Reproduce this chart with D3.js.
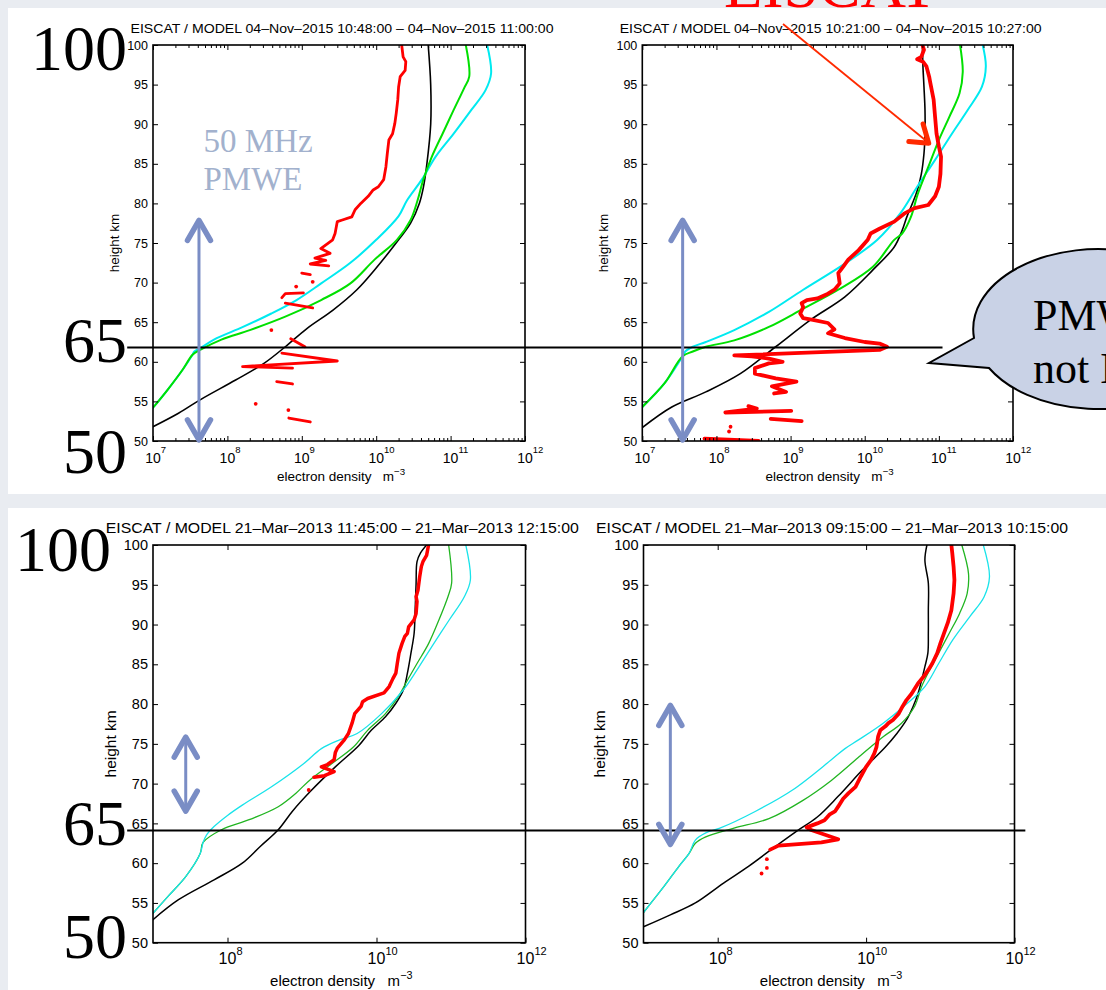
<!DOCTYPE html>
<html><head><meta charset="utf-8">
<script src="https://cdn.jsdelivr.net/npm/d3@7"></script>
<style>body{margin:0;background:#e9ecf1;}svg{display:block;}</style>
</head><body>
<svg id="c" width="1106" height="990"></svg>
<script>
// ---------------- DATA (height km, electron density m^-3) ----------------
const titles = [
  "EISCAT / MODEL 04\u2013Nov\u20132015 10:48:00 \u2013 04\u2013Nov\u20132015 11:00:00",
  "EISCAT / MODEL 04\u2013Nov\u20132015 10:21:00 \u2013 04\u2013Nov\u20132015 10:27:00",
  "EISCAT / MODEL 21\u2013Mar\u20132013 11:45:00 \u2013 21\u2013Mar\u20132013 12:15:00",
  "EISCAT / MODEL 21\u2013Mar\u20132013 09:15:00 \u2013 21\u2013Mar\u20132013 10:15:00"
];
const heightTicks = [50,55,60,65,70,75,80,85,90,95,100];
const densityTicksTop = [1e7,1e8,1e9,1e10,1e11,1e12];
const densityTicksBottom = [1e8,1e10,1e12];

// top-left
const tlBlack = [[100,5.0e10],[95,5.4e10],[90,5.4e10],[85,4.8e10],[82,4.3e10],[80,3.8e10],[77.5,2.9e10],[75.4,2.0e10],[71.6,9.5e9],[69.1,5.5e9],[66.5,2.6e9],[64.2,1.17e9],[61.9,6.0e8],[59.8,3.1e8],[57.7,1.29e8],[55.2,4.3e7],[53.5,2.2e7],[51.8,1.0e7]];
const tlGreen = [[100,1.6e11],[96,1.78e11],[94.5,1.51e11],[91.8,1.1e11],[88.8,7.8e10],[85.9,5.6e10],[83,4.3e10],[80.4,3.6e10],[77.9,2.9e10],[75.4,1.9e10],[72.9,9.5e9],[69.9,4.5e9],[67.8,1.82e9],[65.7,6.0e8],[64.0,2.0e8],[62.8,8.3e7],[61.5,4.3e7],[60.9,3.4e7],[59.0,2.5e7],[56.5,1.58e7],[54.2,1.0e7]];
const tlCyan = [[100,3.1e11],[96.4,3.5e11],[94.3,2.95e11],[91.8,1.9e11],[88.8,1.1e11],[85.9,6.3e10],[83,4.1e10],[80.4,2.6e10],[78.4,2.0e10],[75.4,1.0e10],[72.5,4.5e9],[69.9,1.82e9],[67.8,8.5e8],[66.1,3.9e8],[64.4,1.62e8],[62.8,6.6e7],[61.7,4.3e7],[61.3,3.6e7],[60.9,3.4e7],[59.0,2.5e7],[56.5,1.58e7],[54.2,1.0e7]];
const tlRed = [[100,2.2e10],[98.5,2.3e10],[97.9,2.5e10],[96.8,2.45e10],[96.0,2.1e10],[94.7,2.0e10],[93.1,1.95e10],[91.4,1.86e10],[90.1,1.78e10],[88.8,1.66e10],[88.0,1.48e10],[86.3,1.41e10],[84.6,1.35e10],[83.0,1.26e10],[82.1,1.07e10],[81.7,9.1e9],[80.9,7.8e9],[80.0,6.2e9],[79.2,5.2e9],[78.3,4.7e9],[77.9,3.5e9],[77.7,3.0e9],[76.2,2.8e9],[75.4,2.6e9],[74.3,1.8e9],[73.7,2.4e9],[73.1,1.5e9],[72.8,2.1e9],[72.35,1.3e9],[72.1,2.3e9],
  null,[71.2,1.0e9],[71.0,1.3e9],
  null,[68.1,5.4e8],[68.6,6.0e8],[68.7,1.05e9],
  null,[67.4,6.0e8],[66.8,1.4e9],
  null,[62.9,7.1e8],[61.9,1.1e9],
  null,[61.1,5.4e8],[60.1,3.0e9],[59.4,1.6e8],[59.2,7.5e8],
  null,[57.5,4.6e8],[57.2,7.5e8],
  null,[52.9,6.7e8],[52.4,1.3e9]];
const tlRedDots = [[70.1,1.4e9],[69.5,8.4e8],[64.0,3.9e8],[54.7,2.4e8],[53.9,6.6e8]];

// top-right
const trBlack = [[100,6.0e10],[97.3,6.1e10],[94.7,6.3e10],[91.8,6.5e10],[88.8,6.5e10],[86.3,6.3e10],[83.7,5.8e10],[81.6,5.1e10],[80.0,4.4e10],[78.3,3.7e10],[76.6,3.2e10],[74.5,2.5e10],[71.6,1.29e10],[68.2,5.4e9],[65.3,1.86e9],[61.9,6.3e8],[58.5,2.1e8],[56.2,7.2e7],[54.3,2.5e7],[51.7,1.0e7]];
const trGreen = [[100,1.93e11],[96.6,2.1e11],[93.9,1.9e11],[90.9,1.38e11],[88.0,1.0e11],[84.6,7.2e10],[81.2,5.2e10],[78.3,4.2e10],[76.2,3.2e10],[75.4,2.5e10],[72.0,1.29e10],[69.1,4.4e9],[66.7,1.48e9],[64.4,5.1e8],[62.7,1.74e8],[61.9,7.2e7],[61.3,4.8e7],[60.7,3.5e7],[57.3,2.0e7],[54.3,1.0e7]];
const trCyan = [[100,3.9e11],[97.3,4.3e11],[94.7,3.8e11],[91.8,2.45e11],[88.8,1.5e11],[85.5,8.9e10],[82.1,5.1e10],[78.7,3.0e10],[75.4,1.48e10],[72.4,5.4e9],[69.1,1.48e9],[66.3,5.1e8],[64.0,1.74e8],[62.5,7.2e7],[61.9,4.8e7],[61.3,3.8e7],[60.7,3.5e7],[57.3,2.0e7],[54.3,1.0e7]];
const trRed = [[100,6.0e10],[99.4,6.3e10],[98.5,5.8e10],[98.2,5.1e10],[97.9,6.1e10],[97.3,6.8e10],[96.0,7.4e10],[95.4,7.6e10],[93.1,8.5e10],[90.9,8.9e10],[88.8,9.3e10],[87.2,1.0e11],[85.9,1.07e11],[83.7,1.05e11],[82.1,1.0e11],[80.9,8.9e10],[79.8,7.2e10],[79.4,4.7e10],[78.7,3.4e10],[77.7,2.5e10],[76.8,1.58e10],[76.2,1.2e10],[75.4,1.1e10],[74.1,8.3e9],[72.9,6.0e9],[72.0,5.1e9],[71.2,4.4e9],[69.9,4.6e9],[69.1,3.9e9],[68.6,3.2e9],[68.0,2.3e9],[67.8,1.66e9],[67.4,1.41e9],[66.9,1.48e9],[66.1,1.35e9],[65.5,1.48e9],[65.3,2.0e9],[64.9,3.2e9],[64.1,3.9e9],[63.6,3.2e9],[63.0,5.4e9],[62.5,1.0e10],[62.3,1.58e10],[61.9,2.0e10],[61.5,1.58e10],[60.8,1.74e8],[60.7,3.0e8],[60.4,5.1e8],[60.0,7.8e8],[59.8,5.1e8],[59.2,3.3e8],[58.5,3.3e8],[57.9,6.3e8],[57.5,1.2e9],[56.9,5.6e8],[56.2,8.7e8],[56.0,6.0e8],
  null,[54.4,2.7e8],[54.1,3.5e8],[53.6,1.32e8],[53.8,1.02e9],
  null,[52.8,5.4e8],[52.5,1.41e9],
  null,[50.3,6.9e7],[50.0,3.7e8]];
const trRedDots = [[51.8,1.55e8],[51.2,1.48e8]];

// bottom-left
const blBlack = [[100,4.7e10],[99,3.9e10],[97.9,3.5e10],[95.2,3.4e10],[91.8,3.3e10],[88.9,3.2e10],[86.4,2.9e10],[83.9,2.6e10],[81.8,2.3e10],[80.1,1.82e10],[78.4,1.32e10],[76.7,8.5e9],[74.8,5.8e9],[72.1,2.8e9],[69.0,1.29e9],[66.5,7.4e8],[64.2,4.8e8],[62.1,2.75e8],[60.0,1.58e8],[57.9,6.6e7],[55.4,2.2e7],[52.9,1.0e7]];
const blGreen = [[100,9.3e10],[95.2,1.02e11],[93.5,9.1e10],[90.6,6.9e10],[87.6,5.0e10],[85.1,3.5e10],[83.0,2.6e10],[80.9,1.95e10],[78.8,1.32e10],[76.7,7.6e9],[74.6,4.9e9],[72.5,2.5e9],[70.5,1.29e9],[68.8,8.3e8],[67.1,4.8e8],[65.5,2.0e8],[64.2,8.3e7],[62.6,4.7e7],[61.2,4.3e7],[58.3,2.75e7],[55.8,1.58e7],[53.7,1.0e7]];
const blCyan = [[100,1.58e11],[95.6,1.82e11],[93.5,1.51e11],[90.6,9.5e10],[87.2,5.5e10],[84.3,3.5e10],[81.8,2.3e10],[78.8,1.17e10],[76.3,5.5e9],[75.5,3.2e9],[74.4,1.82e9],[72.5,1.05e9],[69.6,3.9e8],[67.3,1.58e8],[66.0,1.0e8],[64.6,6.6e7],[63.5,5.2e7],[62.6,4.7e7],[61.2,4.3e7],[58.3,2.75e7],[55.8,1.58e7],[53.7,1.0e7]];
const blRed = [[100,5.0e10],[98.7,4.7e10],[97.9,4.2e10],[97.3,4.0e10],[96.0,3.8e10],[94.3,3.6e10],[93.5,3.4e10],[92.9,3.5e10],[91.4,3.4e10],[90.6,3.2e10],[89.7,2.7e10],[88.9,2.6e10],[88.5,2.4e10],[87.6,2.2e10],[86.4,2.0e10],[85.1,1.9e10],[83.9,1.82e10],[83.2,1.66e10],[82.2,1.48e10],[81.4,1.26e10],[80.7,7.6e9],[80.3,6.5e9],[79.7,6.2e9],[78.8,5.1e9],[77.6,4.7e9],[76.3,4.2e9],[75.5,3.7e9],[74.5,3.0e9],[73.9,2.8e9],[73.0,2.7e9],[72.4,2.2e9],[72.1,1.82e9],[71.5,2.7e9],[71.0,2.0e9],[70.8,1.45e9]];
const blRedDots = [[69.2,1.23e9]];

// bottom-right
const brBlack = [[100,6.6e10],[98.1,6.2e10],[95.2,6.9e10],[91.8,6.9e10],[88.9,6.9e10],[86.4,6.8e10],[84.7,6.2e10],[83.0,5.6e10],[81.3,5.0e10],[79.7,4.3e10],[78.0,3.5e10],[76.3,2.6e10],[74.6,1.82e10],[71.7,8.9e9],[68.4,4.2e9],[65.8,2.2e9],[64.0,1.15e9],[62.1,6.0e8],[59.6,2.6e8],[57.5,1.2e8],[55.0,5.0e7],[53.5,2.3e7],[52.0,1.0e7]];
const brGreen = [[100,1.95e11],[96.4,2.4e11],[93.9,2.3e11],[91.4,1.82e11],[88.9,1.32e11],[86.4,9.5e10],[84.3,7.2e10],[82.2,5.6e10],[79.7,4.5e10],[77.6,3.0e10],[75.9,1.7e10],[74.6,1.15e10],[73.4,8.1e9],[70.4,3.4e9],[67.9,1.41e9],[65.6,4.9e8],[64.4,1.66e8],[63.3,6.9e7],[62.5,5.0e7],[61.2,4.1e7],[59.6,3.0e7],[57.1,1.9e7],[53.8,1.0e7]];
const brCyan = [[100,3.8e11],[96.0,4.6e11],[93.5,3.9e11],[91.0,2.5e11],[88.1,1.48e11],[85.1,9.5e10],[82.2,6.2e10],[80.1,3.6e10],[77.6,1.7e10],[75.5,7.9e9],[74.4,5.2e9],[73.0,3.4e9],[69.2,1.02e9],[66.5,3.2e8],[64.4,1.07e8],[63.8,6.9e7],[62.9,5.0e7],[61.2,4.1e7],[59.6,3.0e7],[57.1,1.9e7],[53.8,1.0e7]];
const brRed = [[100,1.41e11],[99.0,1.45e11],[97.3,1.51e11],[95.6,1.55e11],[93.9,1.51e11],[91.8,1.41e11],[90.2,1.26e11],[88.9,1.12e11],[87.6,1.0e11],[86.4,9.1e10],[85.1,7.8e10],[84.3,6.9e10],[83.4,5.9e10],[82.6,5.0e10],[81.3,4.1e10],[80.5,3.5e10],[79.7,3.1e10],[78.8,2.75e10],[78.0,2.3e10],[77.6,2.0e10],[77.2,1.82e10],[76.7,1.55e10],[75.9,1.45e10],[74.6,1.38e10],[73.8,1.29e10],[73.0,1.17e10],[72.1,1.0e10],[70.9,8.5e9],[69.6,7.2e9],[68.8,5.8e9],[68.1,4.9e9],[67.1,4.2e9],[66.5,3.8e9],[66.1,3.2e9],[65.4,2.75e9],[65.0,2.2e9],[64.5,1.58e9],[64.2,1.78e9],[63.0,4.2e9],[62.6,2.5e9],[62.2,6.6e8],[61.7,5.1e8]];
const brRedDots = [[60.5,4.6e8],[59.4,4.6e8],[58.7,3.9e8]];

// annotations (data space)
const pmweArrows = [[4.15e7,78.1,49.9],[3.5e7,78.1,49.9],[2.75e7,76.1,66.3],[2.3e7,80.1,62.1]];
const cutHeights = [61.8, 64.1];

// ---------------- STYLE ----------------
const SANS = "'Liberation Sans', Arial, Helvetica, sans-serif";
const SERIF = "'Liberation Serif', 'Times New Roman', serif";
const BLUE = "#7a8dc5";
const TOP = {fsTitle:13.5, titleY:33, fsY:12.5, fsX:14, fsExp:9.5, expRaise:10.5, xTickDy:22, fsXLab:13.5, xLabDy:40, fsYLab:13.5,
  majors:densityTicksTop, minor:true, order:['black','cyan','green','red'],
  colors:{black:'#000', green:'#00e000', cyan:'#00eaf0', red:'#ff0000'}, widths:{black:1.6, green:2, cyan:2, red:3}};
const BOT = {fsTitle:15, titleY:533, fsY:14.5, fsX:16, fsExp:11, expRaise:9, xTickDy:21.3, fsXLab:15, xLabDy:43.3, fsYLab:15.5,
  majors:densityTicksBottom, minor:false, order:['black','green','cyan','red'],
  colors:{black:'#000', green:'#22b522', cyan:'#19e3ea', red:'#ff0000'}, widths:{black:1.5, green:1.3, cyan:1.3, red:3.5}};

const panels = [
  {id:'tl', x0:153, x1:525, y0:45, y1:441, title:titles[0], titleLen:423, yLabX:114, st:TOP, s:{black:tlBlack,green:tlGreen,cyan:tlCyan,red:tlRed}, dots:tlRedDots, redW:2.8},
  {id:'tr', x0:642.3, x1:1013, y0:45, y1:441, title:titles[1], titleLen:422, yLabX:603.5, st:TOP, s:{black:trBlack,green:trGreen,cyan:trCyan,red:trRed}, dots:trRedDots, redW:3.8},
  {id:'bl', x0:153, x1:525.5, y0:545, y1:942.7, title:titles[2], titleLen:473, yLabX:110.7, st:BOT, s:{black:blBlack,green:blGreen,cyan:blCyan,red:blRed}, dots:blRedDots, redW:3.5},
  {id:'br', x0:643.5, x1:1014.5, y0:545, y1:942.7, title:titles[3], titleLen:472, yLabX:600, st:BOT, s:{black:brBlack,green:brGreen,cyan:brCyan,red:brRed}, dots:brRedDots, redW:3.8}
];

const svg = d3.select('#c');
svg.append('rect').attr('width',1106).attr('height',990).attr('fill','#e9ecf1');
svg.append('text').text('EISCAT').attr('x',724).attr('y',6.5).attr('font-family',SERIF).attr('font-size',63).attr('fill','#ff0000');
svg.append('rect').attr('x',8).attr('y',8).attr('width',1098).attr('height',486).attr('fill','#fff');
svg.append('rect').attr('x',8).attr('y',508).attr('width',1098).attr('height',482).attr('fill','#fff');
const defs = svg.append('defs');

panels.forEach(p => {
  const st = p.st;
  p.x = d3.scaleLog().domain([1e7,1e12]).range([p.x0,p.x1]);
  p.y = d3.scaleLinear().domain([50,100]).range([p.y1,p.y0]);
  const x = p.x, y = p.y;
  const g = svg.append('g');
  defs.append('clipPath').attr('id','clip-'+p.id).append('rect')
    .attr('x',p.x0).attr('y',p.y0).attr('width',p.x1-p.x0).attr('height',p.y1-p.y0);
  const lg = g.append('g').attr('clip-path',`url(#clip-${p.id})`);
  const smooth = d3.line().x(d => x(d[1])).y(d => y(d[0])).curve(d3.curveCatmullRom.alpha(0.5));
  const jag = d3.line().defined(d => d !== null).x(d => x(d[1])).y(d => y(d[0]));
  st.order.forEach(k => {
    lg.append('path').attr('d', k === 'red' ? jag(p.s[k]) : smooth(p.s[k])).attr('fill','none')
      .attr('stroke', st.colors[k]).attr('stroke-width', k==='red' ? p.redW : st.widths[k])
      .attr('stroke-linejoin','round').attr('stroke-linecap','round');
  });
  lg.selectAll('circle.dot').data(p.dots).join('circle').attr('class','dot')
    .attr('cx', d => x(d[1])).attr('cy', d => y(d[0])).attr('r', 1.9).attr('fill','#ff0000');

  // axes ticks (inward)
  const ax = g.append('g').attr('stroke-width',1);
  const clean = s => { s.select('.domain').remove(); s.selectAll('line').attr('stroke','#000'); };
  ax.append('g').attr('transform',`translate(0,${p.y1})`)
    .call(d3.axisBottom(x).tickValues(st.majors).tickSizeInner(-5).tickSizeOuter(0).tickFormat('')).call(clean);
  ax.append('g').attr('transform',`translate(0,${p.y0})`)
    .call(d3.axisTop(x).tickValues(st.majors).tickSizeInner(-5).tickSizeOuter(0).tickFormat('')).call(clean);
  if (st.minor) {
    const minors = [];
    for (let e = 7; e < 12; e++) for (let m = 2; m <= 9; m++) minors.push(m * Math.pow(10, e));
    ax.append('g').attr('transform',`translate(0,${p.y1})`)
      .call(d3.axisBottom(x).tickValues(minors).tickSizeInner(-3).tickSizeOuter(0).tickFormat('')).call(clean);
    ax.append('g').attr('transform',`translate(0,${p.y0})`)
      .call(d3.axisTop(x).tickValues(minors).tickSizeInner(-3).tickSizeOuter(0).tickFormat('')).call(clean);
  }
  const yl = ax.append('g').attr('transform',`translate(${p.x0},0)`)
    .call(d3.axisLeft(y).tickValues(heightTicks).tickSizeInner(-5).tickSizeOuter(0).tickPadding(5)).call(clean);
  yl.attr('font-size', st.fsY).attr('font-family', SANS);
  yl.selectAll('text').attr('fill','#000');
  ax.append('g').attr('transform',`translate(${p.x1},0)`)
    .call(d3.axisRight(y).tickValues(heightTicks).tickSizeInner(-5).tickSizeOuter(0).tickFormat('')).call(clean);

  // box
  g.append('rect').attr('x',p.x0).attr('y',p.y0).attr('width',p.x1-p.x0).attr('height',p.y1-p.y0)
    .attr('fill','none').attr('stroke','#000').attr('stroke-width',1.6);

  // x tick labels 10^n
  st.majors.forEach(v => {
    const e = Math.round(Math.log10(v));
    const t = g.append('text').attr('x', x(v) - st.fsX*0.556).attr('y', p.y1 + st.xTickDy)
      .attr('font-family', SANS).attr('font-size', st.fsX).attr('fill','#000');
    t.append('tspan').text('10');
    t.append('tspan').text(e).attr('font-size', st.fsExp).attr('dy', -st.expRaise);
  });
  // x label
  const xl = g.append('text').attr('x',(p.x0+p.x1)/2 + 2).attr('y', p.y1 + st.xLabDy)
    .attr('text-anchor','middle').attr('font-family',SANS).attr('font-size',st.fsXLab);
  xl.append('tspan').text('electron density\u00a0\u00a0\u00a0m');
  xl.append('tspan').text('\u22123').attr('font-size', st.fsXLab*0.72).attr('dy', -st.fsXLab*0.45);
  // y label
  g.append('text').text('height km').attr('transform',`translate(${p.yLabX},${(p.y0+p.y1)/2}) rotate(-90)`)
    .attr('text-anchor','middle').attr('dy','0.35em').attr('font-family',SANS).attr('font-size',st.fsYLab);
  // title
  g.append('text').text(p.title).attr('x',(p.x0+p.x1)/2 + 3).attr('y', st.titleY)
    .attr('text-anchor','middle').attr('font-family',SANS).attr('font-size',st.fsTitle)
    .attr('textLength', p.titleLen).attr('lengthAdjust','spacingAndGlyphs');
});

const [TL, TR, BL, BR] = panels;

// horizontal cut lines
svg.append('line').attr('x1', TL.x(4.5e6)).attr('x2', TR.x(1.12e11)).attr('y1', TL.y(cutHeights[0])).attr('y2', TL.y(cutHeights[0]))
  .attr('stroke','#000').attr('stroke-width',2);
svg.append('line').attr('x1', BL.x(4.5e6)).attr('x2', BR.x(1.4e12)).attr('y1', BL.y(cutHeights[1])).attr('y2', BL.y(cutHeights[1]))
  .attr('stroke','#000').attr('stroke-width',2);

// big serif labels
const bigLabels = [['100',127,70],['65',127,362],['50',127,473],['100',111,571],['65',127,845],['50',127,958]];
bigLabels.forEach(([t,xx,yy]) => svg.append('text').text(t).attr('x',xx).attr('y',yy).attr('text-anchor','end')
  .attr('font-family',SERIF).attr('font-size',64).attr('fill','#000'));

// blue double arrows
panels.forEach((p,i) => {
  const [n, hT, hB] = pmweArrows[i];
  const X = p.x(n), yT = p.y(hT), yB = p.y(hB);
  const a = svg.append('g').attr('stroke',BLUE).attr('fill','none').attr('stroke-linecap','round').attr('stroke-linejoin','round');
  a.append('line').attr('x1',X).attr('x2',X).attr('y1',yT+3).attr('y2',yB-3).attr('stroke-width',3);
  a.append('path').attr('d',`M${X-11.5},${yT+22}L${X},${yT+2}L${X+11.5},${yT+22}`).attr('stroke-width',5.5);
  a.append('path').attr('d',`M${X-11.5},${yB-22}L${X},${yB-2}L${X+11.5},${yB-22}`).attr('stroke-width',5.5);
});

// "50 MHz PMWE"
const pm = svg.append('text').attr('font-family',SERIF).attr('font-size',33).attr('fill','#a2b1cd');
pm.append('tspan').text('50 MHz').attr('x',203.5).attr('y',152);
pm.append('tspan').text('PMWE').attr('x',203.5).attr('y',190);

// red arrow
{
  const x0 = TR.x(7.9e8), y0 = TR.y(102.65), x1 = TR.x(7.3e10), y1 = TR.y(87.6);
  const ang = Math.atan2(y0 - y1, x0 - x1);
  const L = 20, spread = 0.6;
  const a1 = [x1 + L*Math.cos(ang+spread), y1 + L*Math.sin(ang+spread)];
  const a2 = [x1 + L*Math.cos(ang-spread), y1 + L*Math.sin(ang-spread)];
  svg.append('line').attr('x1',x0).attr('y1',y0).attr('x2',x1-2).attr('y2',y1-2).attr('stroke','#ff2a00').attr('stroke-width',1.8);
  svg.append('path').attr('d',`M${a1[0]},${a1[1]}L${x1},${y1}L${a2[0]},${a2[1]}`).attr('fill','none')
    .attr('stroke','#ff2a00').attr('stroke-width',5).attr('stroke-linejoin','round').attr('stroke-linecap','round');
}

// callout bubble
svg.append('path').attr('d','M974,338 L929,363 L989,368 A125 80 0 1 0 974,338 Z')
  .attr('fill','#c9d2e6').attr('stroke','#000').attr('stroke-width',2);
const co = svg.append('text').attr('font-family',SERIF).attr('font-size',44).attr('fill','#000');
co.append('tspan').text('PMWE').attr('x',1033).attr('y',330);
co.append('tspan').text('not EISCAT').attr('x',1033).attr('y',383);
</script>
</body></html>
